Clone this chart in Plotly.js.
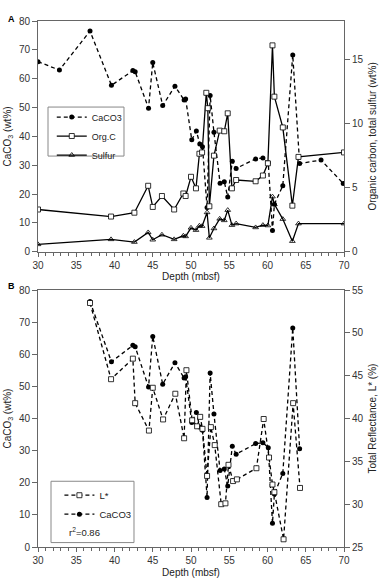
<!DOCTYPE html>
<html>
<head>
<meta charset="utf-8">
<script src="https://cdn.plot.ly/plotly-3.0.1.min.js"></script>
<style>html,body{margin:0;padding:0;background:#fff;}#chart{width:382px;height:579px;}</style>
</head>
<body>
<div id="chart"></div>
<script>
// ---- Data ----
// Panel A: CaCO3 (wt%) vs depth (mbsf)
const depthCaCO3 = [30.0, 32.8, 36.8, 39.6, 42.4, 42.7, 44.45, 45.0, 46.3, 47.9, 49.1, 49.3, 50.1, 50.7, 51.15, 51.5, 52.1, 52.5, 53.0, 53.8, 54.35, 54.8, 55.4, 55.9, 58.45, 59.4, 60.1, 60.65, 60.9, 62.0, 63.3, 64.2, 67.0, 69.9];
const caco3 = [65.9, 63.0, 76.5, 57.7, 62.8, 62.4, 49.8, 65.6, 50.7, 57.4, 52.6, 53.0, 38.8, 41.9, 37.4, 36.4, 15.4, 54.2, 41.4, 23.8, 24.3, 19.0, 31.4, 28.9, 32.2, 32.5, 30.9, 7.4, 16.5, 22.9, 68.2, 30.6, 31.8, 23.7];

// Panel A: organic carbon (wt%)
const depthOrgC = [30.0, 39.55, 42.6, 44.4, 45.0, 46.2, 47.8, 49.0, 49.3, 50.0, 50.65, 51.1, 51.45, 52.0, 52.2, 52.4, 53.0, 53.75, 54.35, 54.8, 55.35, 55.9, 58.45, 59.4, 60.05, 60.65, 60.9, 62.0, 63.25, 64.05, 70.0];
const orgC = [3.3, 2.75, 3.05, 5.15, 3.5, 4.35, 3.3, 4.55, 4.35, 5.85, 4.95, 7.65, 7.75, 12.4, 11.2, 3.55, 7.5, 9.45, 9.4, 10.8, 4.95, 5.6, 5.5, 5.95, 6.9, 16.1, 12.1, 9.7, 3.6, 7.4, 7.75];

// Panel A: total sulfur (wt%)
const depthSulfur = [30.0, 39.55, 42.6, 44.4, 45.0, 46.2, 47.8, 49.0, 49.3, 50.0, 50.65, 51.1, 51.45, 52.1, 52.4, 53.0, 53.75, 54.35, 54.8, 55.35, 55.9, 58.45, 59.4, 60.05, 60.65, 60.9, 62.0, 63.25, 64.05, 70.0];
const sulfur = [0.58, 0.97, 0.76, 1.51, 0.94, 1.33, 0.97, 1.25, 1.2, 1.87, 1.69, 2.03, 2.0, 3.07, 1.09, 1.82, 2.57, 2.45, 3.25, 2.08, 2.2, 1.9, 2.08, 2.05, 4.3, 3.7, 2.55, 0.83, 2.2, 2.2];

// Panel B: total reflectance L* (%)
const depthL = [36.8, 39.55, 42.4, 42.7, 44.5, 45.0, 46.35, 47.95, 49.1, 49.4, 50.15, 50.8, 51.2, 51.5, 52.1, 52.6, 53.1, 53.95, 54.5, 54.9, 55.5, 56.0, 58.55, 59.5, 60.2, 60.65, 60.9, 62.1, 63.35, 64.25];
const lStar = [53.5, 44.6, 47.0, 41.8, 38.6, 43.6, 39.9, 42.9, 37.7, 45.65, 39.8, 39.1, 40.2, 38.8, 33.3, 39.0, 36.9, 30.0, 30.1, 34.6, 32.7, 32.9, 34.2, 39.95, 35.45, 32.3, 31.4, 25.9, 41.8, 31.9];

// Panel B uses the CaCO3 samples within the reflectance interval
const bMin = 36, bMax = 65;
const depthCaCO3B = depthCaCO3.filter(d => d >= bMin && d <= bMax);
const caco3B = caco3.filter((v, i) => depthCaCO3[i] >= bMin && depthCaCO3[i] <= bMax);

const rSquared = "0.86";

// ---- Styling ----
const FONT = "Liberation Sans, Arial, Helvetica, sans-serif";
const AX = "#666";
const dashPat = "4px,3px";

const traces = [
  {x: depthCaCO3, y: caco3, xaxis: 'x', yaxis: 'y', name: 'CaCO3', mode: 'lines+markers',
   line: {color: '#000', width: 1.3, dash: dashPat}, marker: {symbol: 'circle', size: 5, color: '#000'}, legend: 'legend'},
  {x: depthOrgC, y: orgC, xaxis: 'x', yaxis: 'y2', name: 'Org.C', mode: 'lines+markers',
   line: {color: '#000', width: 1.3}, marker: {symbol: 'square', size: 5, color: '#fff', line: {color: '#000', width: 0.8}}, legend: 'legend'},
  {x: depthSulfur, y: sulfur, xaxis: 'x', yaxis: 'y2', name: 'Sulfur', mode: 'lines+markers',
   line: {color: '#000', width: 1.3}, marker: {symbol: 'triangle-up-open', size: 5, color: '#000', line: {width: 0.8}}, legend: 'legend'},
  {x: depthL, y: lStar, xaxis: 'x2', yaxis: 'y4', name: 'L*', mode: 'lines+markers',
   line: {color: '#000', width: 1.3, dash: dashPat}, marker: {symbol: 'square', size: 5, color: '#fff', line: {color: '#000', width: 0.8}}, legend: 'legend2'},
  {x: depthCaCO3B, y: caco3B, xaxis: 'x2', yaxis: 'y3', name: 'CaCO3', mode: 'lines+markers',
   line: {color: '#000', width: 1.3, dash: dashPat}, marker: {symbol: 'circle', size: 5, color: '#000'}, legend: 'legend2'}
];

const tickFont = {family: FONT, size: 10, color: '#333'};
const titleFont = {family: FONT, size: 10, color: '#222'};

function xAxis(anchor) {
  return {
    anchor: anchor, range: [30, 70], dtick: 5, tick0: 30,
    showline: true, linecolor: AX, linewidth: 1, mirror: true,
    ticks: 'outside', ticklen: 4, tickcolor: AX, tickfont: tickFont,
    minor: {dtick: 1, ticks: 'outside', ticklen: 3, tickcolor: AX, showgrid: false},
    showgrid: false, zeroline: false,
    title: {text: 'Depth (mbsf)', font: titleFont, standoff: 3}
  };
}

const layout = {
  width: 382, height: 579,
  margin: {l: 38, r: 38, t: 21, b: 32},
  paper_bgcolor: '#fff', plot_bgcolor: '#fff',
  font: {family: FONT, color: '#222'},
  showlegend: true,
  xaxis: Object.assign(xAxis('y'), {domain: [0, 1]}),
  xaxis2: Object.assign(xAxis('y3'), {domain: [0, 1]}),
  yaxis: {
    domain: [0.5612, 1], anchor: 'x', range: [0, 80], dtick: 10,
    showline: true, linecolor: AX, ticks: 'outside', ticklen: 5, tickcolor: AX,
    tickfont: tickFont, showgrid: false, zeroline: false,
    title: {text: 'CaCO<sub>3</sub> (wt%)', font: titleFont, standoff: 5}
  },
  yaxis2: {
    overlaying: 'y', side: 'right', anchor: 'x', range: [0, 18], tickvals: [0, 5, 10, 15],
    showline: true, linecolor: AX, ticks: 'outside', ticklen: 5, tickcolor: AX,
    tickfont: tickFont, showgrid: false, zeroline: false,
    title: {text: 'Organic carbon, total sulfur (wt%)', font: titleFont, standoff: 6}
  },
  yaxis3: {
    domain: [0, 0.4883], anchor: 'x2', range: [0, 80], dtick: 10,
    showline: true, linecolor: AX, ticks: 'outside', ticklen: 5, tickcolor: AX,
    tickfont: tickFont, showgrid: false, zeroline: false,
    title: {text: 'CaCO<sub>3</sub> (wt%)', font: titleFont, standoff: 5}
  },
  yaxis4: {
    overlaying: 'y3', side: 'right', anchor: 'x2', range: [25, 55], dtick: 5,
    showline: true, linecolor: AX, ticks: 'outside', ticklen: 5, tickcolor: AX,
    tickfont: tickFont, showgrid: false, zeroline: false,
    title: {text: 'Total Reflectance, L* (%)', font: titleFont, standoff: 6}
  },
  legend: {
    x: 0.045, y: 0.845, xanchor: 'left', yanchor: 'top',
    bgcolor: 'rgba(0,0,0,0)', borderwidth: 0,
    font: {family: FONT, size: 9, color: '#222'}, tracegroupgap: 0
  },
  legend2: {
    x: 0.07, y: 0.126, xanchor: 'left', yanchor: 'top',
    bgcolor: 'rgba(0,0,0,0)', borderwidth: 0,
    font: {family: FONT, size: 9.5, color: '#222'}, tracegroupgap: 0
  },
  shapes: [
    {type: 'rect', xref: 'paper', yref: 'paper', x0: 0.0327, x1: 0.281, y0: 0.7432, y1: 0.8364,
     line: {color: '#888', width: 1}, fillcolor: 'rgba(0,0,0,0)'},
    {type: 'rect', xref: 'paper', yref: 'paper', x0: 0.0425, x1: 0.3137, y0: 0.0084, y1: 0.125,
     line: {color: '#888', width: 1}, fillcolor: 'rgba(0,0,0,0)'}
  ],
  annotations: [
    {text: '<b>A</b>', xref: 'paper', yref: 'paper', x: -0.085, y: 1.004, xanchor: 'center', yanchor: 'middle',
     showarrow: false, font: {family: FONT, size: 9, color: '#000'}},
    {text: '<b>B</b>', xref: 'paper', yref: 'paper', x: -0.085, y: 0.496, xanchor: 'center', yanchor: 'middle',
     showarrow: false, font: {family: FONT, size: 9, color: '#000'}},
    {text: 'r<sup>2</sup>=' + rSquared, xref: 'paper', yref: 'paper', x: 0.094, y: 0.0285, xanchor: 'left', yanchor: 'middle',
     showarrow: false, font: {family: FONT, size: 9.5, color: '#222'}}
  ]
};

Plotly.newPlot('chart', traces, layout, {displayModeBar: false, staticPlot: true});
</script>
</body>
</html>
